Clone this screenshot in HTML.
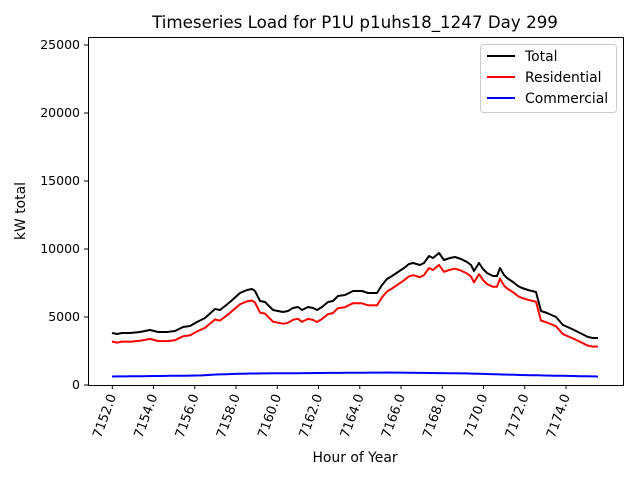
<!DOCTYPE html>
<html><head><meta charset="utf-8"><style>
body{margin:0;background:#fff}
svg{display:block;font-family:"DejaVu Sans","Liberation Sans",sans-serif}
</style></head><body>
<svg id="s" width="640" height="480" xmlns="http://www.w3.org/2000/svg">
<rect width="640" height="480" fill="#fff"/>
<text x="355" y="28" font-size="16.7" text-anchor="middle">Timeseries Load for P1U p1uhs18_1247  Day 299</text>
<g font-size="12.5" text-anchor="end">
<text x="80" y="389">0</text>
<text x="80" y="321">5000</text>
<text x="80" y="253">10000</text>
<text x="80" y="185">15000</text>
<text x="80" y="117">20000</text>
<text x="80" y="49">25000</text>
</g>
<g stroke="#000" stroke-width="1">
<line x1="84" y1="385" x2="88" y2="385"/><line x1="84" y1="317" x2="88" y2="317"/>
<line x1="84" y1="249" x2="88" y2="249"/><line x1="84" y1="181" x2="88" y2="181"/>
<line x1="84" y1="113" x2="88" y2="113"/><line x1="84" y1="45" x2="88" y2="45"/>
</g>
<text transform="translate(25,211) rotate(-90)" font-size="13.9" text-anchor="middle">kW total</text>
<text x="355" y="462" font-size="13.9" text-anchor="middle">Hour of Year</text>
<g id="xt" font-size="13"></g>
<path id="blk" fill="none" stroke="#000" stroke-width="2" stroke-linejoin="round"/>
<path id="red" fill="none" stroke="#f00" stroke-width="2" stroke-linejoin="round"/>
<path id="blu" fill="none" stroke="#00f" stroke-width="2" stroke-linejoin="round"/>
<rect x="88.5" y="37.5" width="535" height="348" fill="none" stroke="#000" stroke-width="1"/>
<rect x="480.5" y="44.5" width="136" height="68" rx="3" fill="#fff" fill-opacity="0.8" stroke="#ccc"/>
<line x1="487" y1="56" x2="515" y2="56" stroke="#000" stroke-width="2"/>
<line x1="487" y1="77" x2="515" y2="77" stroke="#f00" stroke-width="2"/>
<line x1="487" y1="98" x2="515" y2="98" stroke="#00f" stroke-width="2"/>
<g font-size="13.9"><text x="525" y="61">Total</text><text x="525" y="82">Residential</text><text x="525" y="103">Commercial</text></g>
</svg>
<script>
var B=[[112,333],[117,334],[122,333],[130,333],[140,332],[150,330],[158,332],[167,332],[175,331],[183,327],[190,326],[197,322],[205,318],[215,309],[220,310],[230,302],[240,293],[247,290],[252,289],[255,291],[260,301],[265,302],[273,310],[283,312],[288,311],[293,308],[298,307],[302,310],[308,307],[313,308],[317,310],[322,307],[328,302],[333,301],[338,296],[345,295],[353,291],[362,291],[368,293],[377,293],[382,285],[387,279],[392,276],[398,272],[404,268],[409,264],[413,263],[420,265],[424,263],[429,256],[433,258],[439,253],[444,260],[450,258],[455,257],[461,259],[467,262],[471,265],[474,271],[479,263],[483,269],[487,273],[493,276],[497,276],[500,268],[504,275],[507,278],[513,282],[518,286],[522,288],[528,290],[536,292],[541,311],[547,313],[556,317],[563,325],[572,329],[580,333],[588,337],[593,338],[598,338]];
var U=[[112,376.5],[200,375.5],[215,374.5],[250,373.5],[390,372.5],[470,373.5],[520,375],[598,376.5]];
function bu(x){for(var i=0;i<U.length-1;i++){if(x<=U[i+1][0]){var t=(x-U[i][0])/(U[i+1][0]-U[i][0]);return U[i][1]+t*(U[i+1][1]-U[i][1]);}}return U[U.length-1][1];}
function P(a){return 'M'+a.map(function(p){return p[0]+','+p[1].toFixed(1)}).join('L');}
document.getElementById('blk').setAttribute('d',P(B));
document.getElementById('red').setAttribute('d',P(B.map(function(p){return [p[0],p[1]+(385-bu(p[0]))]})));
var ux=[];for(var x=112;x<=598;x+=6)ux.push([x,bu(x)]);ux.push([598,bu(598)]);
document.getElementById('blu').setAttribute('d',P(ux));
var g=document.getElementById('xt'),h='';
for(var i=0;i<12;i++){var x=112.3+i*41.25,v=(7152+2*i).toFixed(1);
h+='<line x1="'+x+'" y1="385" x2="'+x+'" y2="389" stroke="#000"/>';
h+='<text transform="translate('+(x+4)+',396) rotate(-70)" text-anchor="end">'+v+'</text>';}
g.innerHTML=h;
</script>
</body></html>
